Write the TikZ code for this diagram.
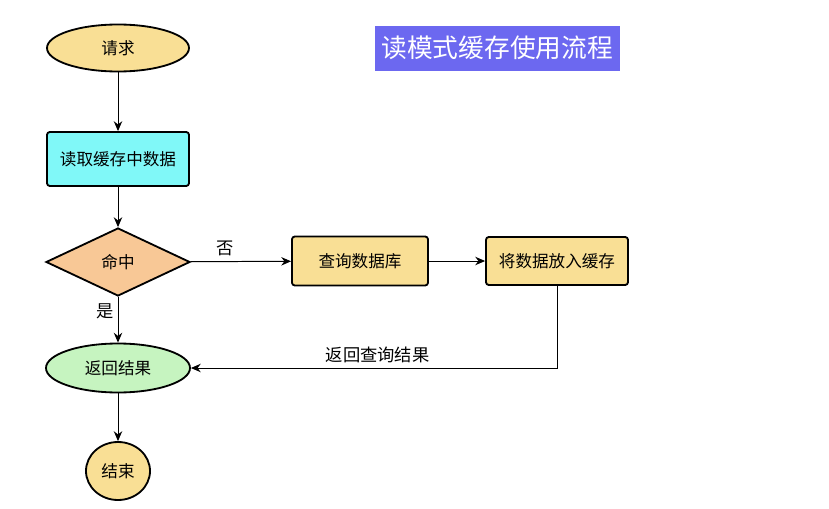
\documentclass[tikz,border=0pt]{standalone}
\usepackage{fontspec}
\setmainfont{Noto Sans CJK SC}
\usetikzlibrary{shapes.geometric,arrows.meta}

\definecolor{paleGold}{HTML}{F9DF95}
\definecolor{paleCyan}{HTML}{80F8F8}
\definecolor{palePeach}{HTML}{F8C896}
\definecolor{paleGreen}{HTML}{C6F4C0}
\definecolor{titleBlue}{HTML}{6C68F0}

\tikzset{
    box/.style={draw, line width=1.3pt, rounded corners=2pt, align=center,
        font=\fontsize{11.8}{13}\selectfont, inner sep=0pt},
    oval/.style={box, ellipse, rounded corners=0pt},
    flow/.style={-{Stealth[length=7pt,width=6pt]}, line width=0.7pt},
    lbl/.style={font=\fontsize{12.3}{13}\selectfont}
}

\begin{document}
\begin{tikzpicture}
        \useasboundingbox (0,0) rectangle (20.725,-12.7);

        % ===== TITLE =====
        \node[fill=titleBlue, text=white, minimum width=6.125cm, minimum height=1.125cm,
              font=\fontsize{18.3}{22}\selectfont, inner sep=0pt] (title) at (12.43,-1.2) {读模式缓存使用流程};

        % ===== MAIN COLUMN =====
        \node[oval, fill=paleGold, minimum width=3.55cm, minimum height=1.175cm] (req) at (2.95,-1.2) {请求};
        \node[box, fill=paleCyan, minimum width=3.55cm, minimum height=1.35cm] (read) at (2.95,-3.975) {读取缓存中数据};
        \node[box, diamond, rounded corners=0pt, fill=palePeach, aspect=2,
              minimum width=3.6cm, minimum height=1.7cm] (hit) at (2.95,-6.55) {命中};
        \node[oval, fill=paleGreen, minimum width=3.6cm, minimum height=1.225cm] (result) at (2.95,-9.2) {返回结果};
        \node[oval, fill=paleGold, minimum width=1.6cm, minimum height=1.45cm] (stop) at (2.95,-11.775) {结束};

        % ===== MISS BRANCH =====
        \node[box, fill=paleGold, minimum width=3.4cm, minimum height=1.225cm] (query) at (9.0,-6.525) {查询数据库};
        \node[box, fill=paleGold, minimum width=3.55cm, minimum height=1.2cm] (cache) at (13.925,-6.525) {将数据放入缓存};

        % ===== CONNECTORS =====
        \draw[flow] (req) -- (read);
        \draw[flow] (read) -- (hit);
        \draw[flow] (hit) -- node[lbl, pos=0.32, left, xshift=1pt] {是} (result);
        \draw[flow] (result) -- (stop);
        \draw[flow] (hit) -- node[lbl, pos=0.35, above] {否} (query);
        \draw[flow] (query) -- (cache);
        % back to the result
        \draw[flow] (cache.south) |- node[lbl, pos=0.745, above] {返回查询结果} (result.east);

\end{tikzpicture}
\end{document}
